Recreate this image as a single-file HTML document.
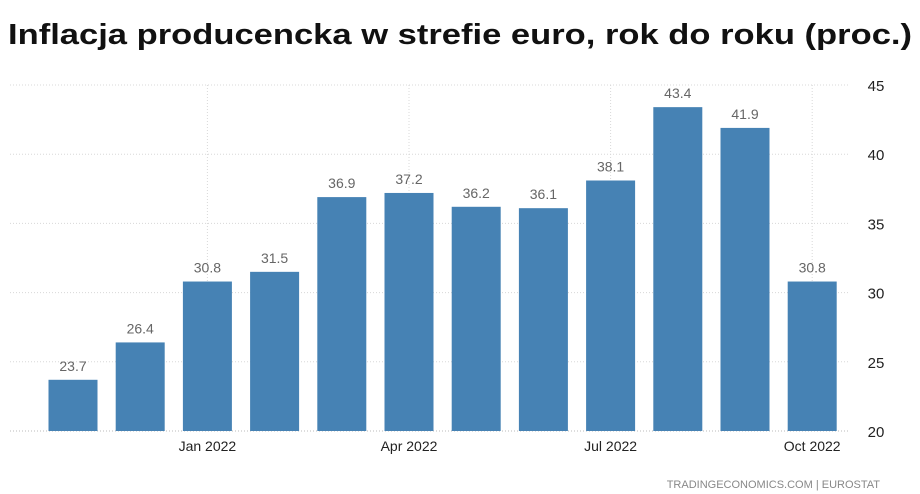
<!DOCTYPE html>
<html><head><meta charset="utf-8"><style>
body{margin:0;background:#fff}
svg{display:block;font-family:"Liberation Sans",Arial,sans-serif}
</style></head><body>
<svg width="920" height="494" viewBox="0 0 920 494">
<text x="8" y="44" font-size="29" font-weight="bold" fill="#111" textLength="904" lengthAdjust="spacingAndGlyphs">Inflacja producencka w strefie euro, rok do roku (proc.)</text>
<g id="grid"></g>
<g id="bars"></g>
<g id="axes"></g>
<text x="880" y="488" font-size="11" fill="#888" text-anchor="end">TRADINGECONOMICS.COM  |  EUROSTAT</text>
</svg>
<script>
const categories=["Nov 2021","Dec 2021","Jan 2022","Feb 2022","Mar 2022","Apr 2022","May 2022","Jun 2022","Jul 2022","Aug 2022","Sep 2022","Oct 2022"];
const values=[23.7,26.4,30.8,31.5,36.9,37.2,36.2,36.1,38.1,43.4,41.9,30.8];
const yTicks=[20,25,30,35,40,45];
const xLabels=["","","Jan 2022","","","Apr 2022","","","Jul 2022","","","Oct 2022"];
const NS="http://www.w3.org/2000/svg";
const y0=431,y1=85,vMin=20,vMax=45;
const y=v=>y0-(v-vMin)/(vMax-vMin)*(y0-y1);
const x=i=>73+i*67.2;
const bw=49;
function mk(tag,attrs,parent){const e=document.createElementNS(NS,tag);for(const k in attrs)e.setAttribute(k,attrs[k]);parent.appendChild(e);return e;}
const grid=document.getElementById('grid'),bars=document.getElementById('bars'),axes=document.getElementById('axes');
yTicks.forEach(t=>{
  const l=mk('line',{x1:10,x2:850,y1:y(t),y2:y(t),stroke:t===20?'#bbb':'#d8d8d8','stroke-dasharray':'1 2'},grid);
  
  
  const tx=mk('text',{x:876,y:y(t)+6,'font-size':15,fill:'#222','text-anchor':'middle'},axes);
  tx.textContent=t;
  
  
});
xLabels.forEach((lab,i)=>{
  if(!lab)return;
  const l=mk('line',{x1:x(i),x2:x(i),y1:y1,y2:y0,stroke:'#d8d8d8','stroke-dasharray':'1 2'},grid);
  
  
  const tx=mk('text',{x:x(i),y:y0+20,'font-size':14,fill:'#222','text-anchor':'middle'},axes);
  tx.textContent=lab;
  
  
});
values.forEach((v,i)=>{
  const r=mk('rect',{x:x(i)-bw/2,y:y(v),width:bw,height:y0-y(v),fill:'#4682b4'},bars);
  
  
  const tx=mk('text',{x:x(i),y:y(v)-9,'font-size':14,fill:'#666','text-anchor':'middle'},bars);
  tx.textContent=v.toFixed(1);
  
  
});
</script>
</body></html>
